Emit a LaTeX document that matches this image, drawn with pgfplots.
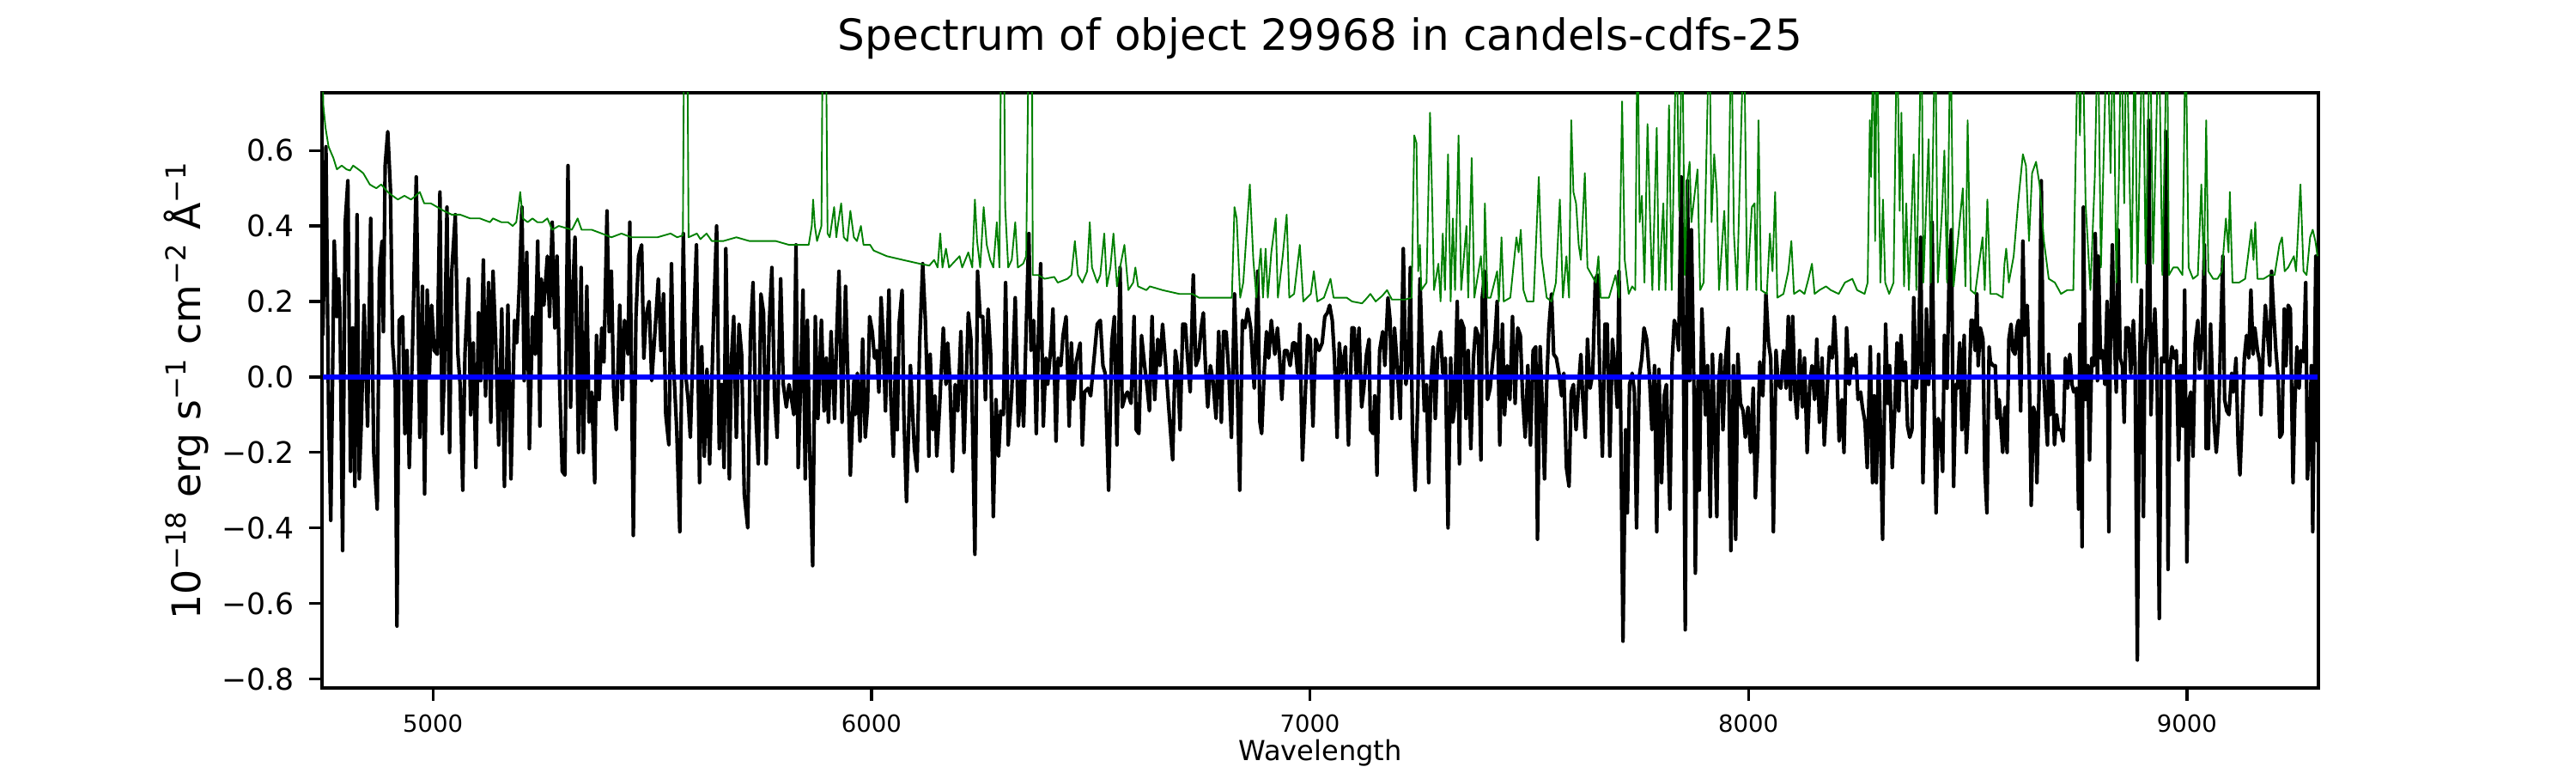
\documentclass[border=0pt]{standalone}
\usepackage{fontspec}
\setmainfont{DejaVu Sans}
\usepackage{pgfplots}
\pgfplotsset{compat=1.18}
\definecolor{mplgreen}{RGB}{0,128,0}
\definecolor{mplblue}{RGB}{0,0,255}
\begin{document}
\begin{tikzpicture}
\begin{axis}[
  at={(0,0)}, anchor=south west,
  scale only axis, width=558pt, height=166.32pt,
  xmin=4747, xmax=9300, ymin=-0.824, ymax=0.753,
  axis line style={line width=0.8pt},
  tick align=outside, tick pos=left,
  major tick length=3.5pt,
  every tick/.style={black, line width=0.8pt},
  xtick={5000,6000,7000,8000,9000},
  xticklabels={5000,6000,7000,8000,9000},
  ytick={-0.8,-0.6,-0.4,-0.2,0,0.2,0.4,0.6},
  yticklabels={−0.8,−0.6,−0.4,−0.2,0.0,0.2,0.4,0.6},
  xticklabel style={font=\fontsize{6.6}{7}\selectfont, inner sep=0pt, anchor=north, yshift=-3.7pt},
  yticklabel style={font=\fontsize{8.3}{9}\selectfont, inner sep=0pt, anchor=east, xshift=-4.1pt},
  title={Spectrum of object 29968 in candels-cdfs-25},
  title style={font=\fontsize{12}{14}\selectfont, at={(axis description cs:0.5,1)}, anchor=base, yshift=5.8pt, inner sep=0pt},
  xlabel={Wavelength},
  xlabel style={font=\fontsize{7.7}{9}\selectfont, at={(axis description cs:0.5,0)}, anchor=base, yshift=-20.2pt, inner sep=0pt},
  ylabel={10\textsuperscript{−18} erg s\textsuperscript{−1} cm\textsuperscript{−2} Å\textsuperscript{−1}},
  ylabel style={font=\fontsize{11}{13}\selectfont, at={([xshift=-34pt]axis description cs:0,0.5)}, anchor=base, inner sep=0pt},
  clip=true,
]
% black: flux
\addplot[black, line width=1.0pt, line join=round] coordinates {
(4749,0.11) (4756,0.61) (4762,-0.09) (4767,-0.38) (4775,0.36) (4781,0.16) (4785,0.26) (4788,0.17) (4794,-0.46) (4800,0.41)
(4806,0.52) (4812,-0.25) (4817,0.13) (4822,-0.29) (4827,0.43) (4832,-0.27) (4837,-0.11) (4843,0.19) (4851,-0.13) (4858,0.42)
(4865,-0.20) (4873,-0.35) (4878,0.28) (4884,0.36) (4887,0.12) (4891,0.56) (4897,0.65) (4903,0.50) (4908,0.09) (4914,-0.01)
(4918,-0.66) (4923,0.15) (4931,0.16) (4936,-0.15) (4941,0.07) (4946,-0.24) (4953,0.06) (4962,0.53) (4970,-0.16) (4976,0.24)
(4981,-0.31) (4987,0.23) (4992,0.01) (4997,0.19) (5003,0.07) (5010,0.06) (5016,0.49) (5021,-0.15) (5026,0.01) (5032,0.45)
(5038,-0.20) (5043,0.28) (5051,0.43) (5057,0.06) (5062,-0.02) (5068,-0.30) (5073,0.06) (5081,0.26) (5086,-0.10) (5092,0.09)
(5098,-0.24) (5104,0.17) (5109,-0.01) (5115,0.31) (5120,-0.05) (5127,0.25) (5132,-0.12) (5137,0.28) (5143,0.10) (5150,-0.18)
(5157,0.18) (5163,-0.29) (5171,0.19) (5178,-0.27) (5186,0.15) (5191,0.09) (5197,0.24) (5203,0.45) (5208,-0.01) (5214,0.33)
(5220,-0.19) (5227,0.16) (5233,0.06) (5239,0.36) (5244,-0.13) (5247,0.26) (5253,0.19) (5261,0.32) (5266,0.16) (5272,0.41)
(5278,0.13) (5283,0.32) (5289,-0.02) (5295,-0.25) (5301,-0.26) (5308,0.56) (5314,-0.08) (5319,0.23) (5324,0.37) (5332,-0.20)
(5338,0.29) (5343,-0.20) (5351,0.24) (5356,-0.12) (5362,-0.04) (5369,-0.28) (5373,0.11) (5379,-0.06) (5385,0.13) (5390,0.04)
(5397,0.44) (5402,0.12) (5407,0.28) (5412,-0.03) (5418,-0.14) (5426,0.19) (5432,-0.06) (5437,0.15) (5445,0.06) (5449,0.41)
(5457,-0.42) (5463,0.16) (5469,0.32) (5476,0.35) (5481,0.05) (5486,0.16) (5493,0.20) (5499,-0.01) (5507,0.13) (5514,0.26)
(5520,0.07) (5526,0.22) (5531,-0.10) (5538,-0.18) (5544,0.30) (5548,0.05) (5556,-0.14) (5563,-0.41) (5571,0.38) (5576,0.01)
(5582,-0.06) (5587,-0.16) (5595,0.15) (5601,0.35) (5608,-0.28) (5613,0.08) (5619,-0.21) (5625,0.02) (5631,-0.23) (5640,0.15)
(5647,0.40) (5653,-0.19) (5658,-0.02) (5664,-0.24) (5668,0.34) (5676,-0.27) (5681,0.05) (5686,0.16) (5692,-0.16) (5698,0.14)
(5704,0.06) (5710,-0.31) (5718,-0.40) (5724,0.11) (5730,0.25) (5736,-0.09) (5742,-0.23) (5748,0.22) (5754,0.17) (5760,-0.23)
(5767,0.14) (5773,0.29) (5779,-0.05) (5785,-0.16) (5793,0.26) (5799,-0.02) (5806,-0.08) (5812,-0.02) (5818,-0.06) (5823,-0.10)
(5828,0.35) (5833,-0.24) (5838,-0.04) (5844,0.23) (5849,-0.27) (5854,0.15) (5859,-0.18) (5866,-0.50) (5872,0.16) (5878,-0.11)
(5886,0.15) (5892,-0.09) (5897,0.05) (5902,-0.12) (5908,0.12) (5916,-0.11) (5921,0.12)
(5926,0.28) (5933,-0.12) (5941,0.24) (5952,-0.26) (5960,-0.01) (5963,-0.10) (5968,0.01) (5974,-0.17) (5980,0.10) (5986,-0.16)
(5991,-0.08) (5996,0.16) (6002,0.12) (6007,0.05) (6012,0.07) (6017,-0.04) (6022,0.21) (6027,0.10) (6032,-0.09) (6040,0.23)
(6044,-0.05) (6050,-0.21) (6055,0.05) (6059,-0.14) (6063,0.14) (6070,0.23) (6074,-0.10) (6080,-0.33) (6089,0.03) (6095,-0.12)
(6098,-0.19) (6104,-0.25) (6110,0.09) (6117,0.30) (6123,0.15) (6127,-0.01) (6131,-0.21) (6134,0.06) (6140,-0.14) (6145,-0.05)
(6149,-0.21) (6155,-0.09) (6164,0.13) (6170,-0.02) (6174,0.09) (6179,-0.01) (6185,-0.25) (6191,-0.02) (6197,-0.09) (6204,0.12)
(6211,-0.20) (6221,0.17) (6227,0.10) (6236,-0.47) (6242,0.28) (6248,0.16) (6254,0.16) (6260,-0.06) (6266,0.18) (6272,0.06)
(6278,-0.37) (6284,-0.06) (6290,-0.21) (6295,-0.09) (6301,-0.10) (6306,0.25) (6312,-0.18) (6320,-0.04) (6328,0.21) (6335,-0.13)
(6342,0.00) (6347,-0.13) (6353,0.13) (6359,0.38) (6364,0.07) (6370,0.15) (6376,-0.15) (6381,0.12) (6386,0.30) (6392,-0.13)
(6398,0.05) (6402,-0.02) (6410,0.09) (6414,0.18) (6421,-0.17) (6426,0.05) (6432,0.03) (6437,0.11) (6444,0.16) (6451,-0.13)
(6456,0.09) (6461,-0.06) (6467,0.04) (6476,0.09) (6481,-0.18) (6486,-0.04) (6494,-0.03) (6500,-0.05) (6507,0.04) (6515,0.14)
(6522,0.15) (6528,0.03) (6533,0.01) (6541,-0.30) (6548,0.09) (6554,0.16) (6560,-0.18) (6567,0.29) (6572,-0.08) (6579,-0.05)
(6584,-0.04) (6592,-0.07) (6599,0.16) (6604,-0.14) (6610,-0.15) (6616,0.11) (6623,0.03) (6629,-0.03) (6634,-0.09) (6640,0.16)
(6646,-0.06) (6653,0.10) (6658,0.03) (6664,0.14) (6670,0.05) (6678,-0.08) (6687,-0.22) (6693,0.07) (6698,0.03) (6704,-0.14)
(6710,0.14) (6716,0.14) (6721,0.05) (6727,-0.04) (6734,0.27) (6740,0.03) (6746,0.05) (6752,0.13) (6757,0.17) (6761,0.05)
(6767,-0.08) (6773,0.03) (6779,-0.01) (6786,-0.11) (6792,0.12) (6798,-0.12) (6803,0.12) (6809,0.12) (6815,0.01) (6821,-0.16)
(6828,0.22) (6835,-0.05) (6840,-0.30) (6846,0.15) (6852,0.13) (6858,0.18) (6865,0.13) (6873,-0.03) (6881,0.28) (6886,-0.12)
(6890,-0.15) (6896,0.02) (6901,0.12) (6906,0.05) (6912,0.15) (6920,0.06) (6926,0.13) (6931,0.05) (6936,-0.06) (6942,0.07)
(6948,0.07) (6955,0.03) (6961,0.09) (6966,0.09) (6972,0.01) (6977,0.14) (6983,-0.22) (6989,-0.06) (6995,0.11) (7001,0.10)
(7007,-0.13) (7013,0.10) (7021,0.07) (7028,0.09) (7034,0.16) (7040,0.17) (7045,0.19) (7051,0.15) (7056,0.05) (7062,-0.16)
(7067,0.09) (7073,0.01) (7081,0.08) (7088,-0.18) (7096,0.13)
(7101,0.13) (7106,0.00) (7112,0.13) (7118,-0.08) (7123,-0.03) (7129,0.06) (7135,0.10) (7138,-0.14) (7144,-0.15) (7148,-0.05)
(7153,-0.26) (7159,0.07) (7166,0.12) (7171,0.03) (7178,0.21) (7183,0.15) (7187,-0.11) (7193,0.13) (7198,0.05) (7206,-0.11)
(7213,0.34) (7219,-0.02) (7225,0.05) (7229,0.29) (7234,-0.16) (7240,-0.30) (7246,-0.06) (7251,0.26) (7257,0.04) (7261,-0.09)
(7266,-0.02) (7271,-0.28) (7276,-0.01) (7281,0.08) (7286,-0.11) (7292,0.08) (7298,0.12) (7303,0.01) (7309,0.05) (7315,-0.40)
(7321,0.05) (7326,-0.12) (7330,-0.08) (7336,0.20) (7341,-0.23) (7345,0.15) (7351,0.13) (7356,-0.11) (7361,0.07) (7367,-0.19)
(7373,0.05) (7378,0.13) (7384,0.11) (7390,-0.22) (7393,0.21) (7399,0.28) (7405,-0.06) (7411,-0.03) (7416,0.03) (7422,0.10)
(7427,0.20) (7433,-0.18) (7439,0.14) (7444,-0.10) (7450,0.03) (7456,-0.06) (7462,0.16) (7468,-0.07) (7474,0.13) (7480,0.11)
(7485,-0.05) (7491,-0.16) (7497,0.03) (7503,-0.18) (7509,0.07) (7515,0.08) (7519,-0.43) (7525,0.08) (7530,-0.07) (7535,-0.27)
(7540,-0.02) (7545,0.13) (7551,0.22) (7556,0.06) (7562,0.05) (7568,0.01) (7574,-0.05) (7579,0.01) (7585,-0.24) (7591,-0.29)
(7596,-0.04) (7601,-0.02) (7607,-0.14) (7613,-0.02) (7618,0.06) (7622,-0.05) (7628,-0.16) (7633,0.10) (7639,-0.03) (7645,0.01)
(7651,0.26) (7656,0.27) (7661,0.01) (7667,-0.21) (7673,0.14) (7678,0.14) (7684,-0.21) (7690,0.10) (7695,0.03) (7701,-0.08)
(7705,0.28) (7708,-0.01) (7714,-0.70) (7720,-0.14) (7724,-0.36) (7729,-0.02) (7735,0.01) (7740,-0.04) (7745,-0.40) (7751,0.00)
(7757,0.05) (7762,0.13) (7768,0.10) (7774,0.01) (7780,-0.14) (7786,0.03) (7791,-0.41) (7796,0.02) (7802,-0.28) (7808,-0.05)
(7813,-0.02) (7821,-0.35) (7826,0.04) (7831,0.15) (7836,0.13) (7841,0.07) (7847,0.53) (7852,0.03) (7856,-0.67) (7861,0.52)
(7866,-0.01) (7870,0.39) (7876,-0.05) (7879,-0.52) (7885,-0.01) (7888,-0.30) (7894,0.18) (7898,0.05) (7902,-0.10) (7907,0.03)
(7913,-0.37) (7918,0.06) (7922,-0.09) (7928,-0.37) (7932,-0.02) (7937,0.06) (7942,-0.14) (7948,0.05) (7954,0.13) (7960,-0.46)
(7966,0.03) (7971,-0.43) (7976,0.06) (7982,-0.07) (7988,-0.09) (7993,-0.16) (7999,-0.08) (8005,-0.20) (8011,-0.03) (8016,-0.32)
(8021,-0.19) (8026,0.04) (8033,-0.05) (8040,0.22) (8046,0.09) (8051,0.05) (8057,-0.41) (8063,0.07) (8068,-0.02) (8074,-0.03)
(8080,0.07) (8086,-0.03) (8091,0.16) (8096,-0.06) (8101,0.16) (8106,-0.04) (8111,-0.11) (8117,0.07) (8123,-0.08) (8128,0.05)
(8134,-0.20) (8140,-0.02) (8145,0.03) (8151,-0.06) (8156,0.10) (8162,-0.12) (8168,0.05) (8173,-0.18) (8179,-0.05) (8185,0.08)
(8191,0.05) (8196,0.16) (8201,0.05) (8207,-0.17) (8213,-0.06) (8218,-0.20) (8224,0.13) (8230,-0.02) (8236,0.05) (8241,0.03)
(8245,0.06) (8250,-0.06) (8256,-0.04) (8260,-0.08) (8266,-0.12) (8271,-0.24)
(8278,0.08) (8283,-0.28) (8287,-0.05) (8292,-0.28) (8297,0.06) (8301,-0.13) (8306,-0.43) (8313,0.14) (8318,-0.07) (8322,0.03)
(8328,-0.24) (8334,-0.08) (8339,0.09) (8343,-0.09) (8348,0.11) (8353,-0.01) (8358,0.04) (8363,-0.13) (8368,-0.16) (8373,-0.14)
(8377,0.21) (8383,-0.03) (8388,0.05) (8393,0.37) (8398,-0.28) (8404,0.01) (8406,0.18) (8411,-0.02) (8416,0.09) (8419,0.41)
(8424,-0.11) (8428,-0.36) (8433,-0.11) (8438,-0.13) (8443,-0.25) (8447,0.11) (8453,-0.03) (8458,0.29) (8463,0.39) (8468,-0.29)
(8473,-0.02) (8477,-0.03) (8482,0.09) (8487,-0.14) (8492,0.11) (8497,-0.20) (8503,-0.05) (8508,0.15) (8512,0.15) (8517,0.07)
(8521,0.22) (8524,0.03) (8529,0.13) (8535,0.10) (8539,-0.24) (8544,-0.36) (8549,0.08) (8552,0.04) (8558,0.03) (8563,0.03)
(8567,-0.11) (8572,-0.06) (8575,-0.11) (8580,-0.20) (8585,-0.08) (8590,-0.20) (8594,0.10) (8599,0.14) (8603,0.07) (8608,0.06)
(8612,0.13) (8616,0.15) (8621,-0.09) (8626,0.36) (8630,0.11) (8636,0.19) (8641,-0.02) (8645,-0.34) (8650,-0.08) (8655,-0.10)
(8658,-0.28) (8663,-0.03) (8668,0.52) (8672,0.04) (8677,-0.08) (8682,-0.18) (8685,0.06) (8689,-0.10) (8694,-0.01) (8698,-0.18)
(8703,-0.10) (8707,-0.14) (8713,-0.14) (8718,-0.17) (8723,0.05) (8728,-0.03) (8733,0.06) (8738,-0.02) (8742,-0.04) (8748,-0.03)
(8753,-0.35) (8756,0.14) (8761,-0.45) (8764,0.45) (8769,-0.06) (8774,0.03) (8778,-0.22) (8783,0.05) (8788,0.03) (8791,0.38)
(8796,-0.01) (8798,0.32) (8803,0.05) (8808,0.07) (8813,-0.02) (8818,0.20) (8822,-0.41) (8825,0.05) (8830,0.35) (8834,0.13)
(8839,-0.04) (8843,0.39) (8848,0.05) (8853,0.03) (8857,-0.12) (8861,0.13) (8867,0.13) (8872,0.01) (8878,0.15) (8882,0.03)
(8887,-0.75) (8892,0.03) (8896,0.23) (8901,-0.37) (8904,0.05) (8909,0.13) (8913,0.68) (8918,-0.10) (8922,0.06) (8927,0.18)
(8932,0.02) (8937,-0.64) (8942,0.05) (8948,0.04) (8952,0.65) (8957,-0.51) (8962,0.03) (8966,0.08) (8971,0.05) (8976,0.07)
(8981,-0.22) (8986,0.03) (8991,-0.13) (8995,0.23) (9000,-0.49) (9005,-0.06) (9009,-0.04) (9014,-0.21) (9019,0.09) (9025,0.15)
(9029,0.02) (9035,0.10) (9040,0.35) (9044,-0.19) (9049,-0.19) (9054,0.14) (9057,0.03) (9062,-0.12) (9067,-0.20) (9072,-0.12)
(9077,0.11) (9082,0.32) (9086,-0.06) (9091,-0.09) (9096,-0.10) (9102,0.01) (9106,-0.04) (9112,0.05) (9117,-0.18) (9121,-0.26)
(9126,-0.11) (9131,0.05) (9136,0.11) (9141,0.05) (9146,0.23) (9151,0.06) (9155,0.13) (9161,0.07) (9166,0.04) (9169,-0.10)
(9174,0.07) (9179,0.19) (9183,0.13) (9189,0.03) (9193,0.28) (9197,0.19) (9203,0.07) (9208,0.00) (9212,-0.16) (9217,-0.15)
(9222,0.18) (9226,0.03) (9231,0.19) (9236,0.18) (9242,-0.28) (9246,-0.08) (9251,0.08) (9256,-0.03) (9260,0.07) (9266,0.04)
(9271,0.25) (9275,-0.27) (9280,-0.14) (9284,0.03) (9287,-0.41) (9291,0.00) (9294,0.32) (9298,-0.17) (9300,0.34)
};
% green: noise
\addplot[mplgreen, line width=0.45pt, line join=round] coordinates {
(4747,0.90) (4750,0.72) (4755,0.66) (4762,0.61) (4773,0.58) (4781,0.55) (4792,0.56) (4803,0.55) (4811,0.547) (4818,0.56)
(4830,0.55) (4841,0.54) (4856,0.51) (4863,0.505) (4871,0.50) (4882,0.51) (4897,0.49) (4908,0.48) (4920,0.47) (4935,0.48)
(4950,0.47) (4961,0.48) (4970,0.49) (4980,0.46) (4995,0.46) (5010,0.45) (5025,0.44) (5043,0.43) (5062,0.43) (5085,0.42)
(5107,0.42) (5130,0.41) (5137,0.42) (5156,0.41) (5171,0.41) (5182,0.40) (5190,0.41) (5196,0.46) (5199,0.49) (5205,0.42)
(5216,0.41) (5227,0.42) (5238,0.41) (5250,0.41) (5261,0.42) (5272,0.39) (5287,0.40) (5317,0.39) (5330,0.42) (5339,0.39)
(5362,0.39) (5385,0.38) (5407,0.37) (5430,0.38) (5452,0.37) (5482,0.37) (5512,0.37) (5542,0.38) (5557,0.37) (5570,0.375)
(5573,0.95) (5580,0.95) (5583,0.37) (5602,0.38) (5610,0.365) (5624,0.38) (5636,0.36) (5662,0.36) (5692,0.37) (5722,0.36)
(5752,0.36) (5782,0.36) (5812,0.35) (5842,0.35) (5857,0.35) (5864,0.40) (5867,0.47) (5871,0.40) (5876,0.36) (5886,0.40)
(5889,0.95) (5896,0.95) (5900,0.38) (5905,0.37) (5915,0.45) (5920,0.37)
(5922,0.39) (5931,0.46) (5937,0.37) (5945,0.36) (5952,0.44) (5960,0.37) (5967,0.36) (5976,0.40) (5982,0.35) (5997,0.35)
(6005,0.335) (6035,0.32) (6072,0.31) (6110,0.30) (6132,0.295) (6143,0.31) (6151,0.29) (6157,0.38) (6162,0.29) (6170,0.34)
(6177,0.29) (6201,0.32) (6207,0.29) (6221,0.33) (6230,0.29) (6236,0.47) (6241,0.36) (6248,0.29) (6256,0.45) (6263,0.35)
(6271,0.31) (6278,0.29) (6286,0.41) (6292,0.29) (6296,0.95) (6302,0.95) (6305,0.45) (6312,0.29) (6320,0.31) (6328,0.41)
(6334,0.29) (6346,0.30) (6353,0.32) (6359,0.95) (6366,0.95) (6368,0.27) (6380,0.27) (6395,0.26) (6417,0.265) (6425,0.25)
(6447,0.26) (6456,0.27) (6464,0.36) (6471,0.27) (6481,0.25) (6492,0.28) (6498,0.41) (6503,0.29) (6515,0.25) (6522,0.27)
(6531,0.38) (6537,0.24) (6545,0.29) (6552,0.38) (6560,0.24) (6567,0.29) (6577,0.35) (6586,0.23) (6597,0.25) (6602,0.29)
(6608,0.24) (6627,0.23) (6635,0.24) (6664,0.23) (6702,0.22) (6732,0.22) (6747,0.21) (6785,0.21) (6822,0.21) (6828,0.45)
(6833,0.42) (6841,0.21) (6848,0.25) (6863,0.51) (6871,0.31) (6878,0.21) (6888,0.34) (6893,0.21) (6899,0.34) (6904,0.21)
(6912,0.33) (6922,0.42) (6927,0.21) (6938,0.32) (6947,0.43) (6953,0.21) (6964,0.22) (6977,0.35) (6985,0.20) (7002,0.22)
(7009,0.28) (7017,0.20) (7032,0.21) (7047,0.26) (7054,0.21) (7069,0.21) (7084,0.21) (7096,0.20)
(7119,0.195) (7127,0.205) (7138,0.22) (7150,0.20) (7165,0.215) (7176,0.23) (7187,0.205) (7202,0.205) (7217,0.205) (7232,0.21)
(7238,0.64) (7243,0.62) (7247,0.28) (7251,0.35) (7254,0.23) (7266,0.25) (7274,0.70) (7279,0.46) (7283,0.23) (7293,0.30)
(7298,0.20) (7303,0.38) (7308,0.23) (7315,0.59) (7321,0.20) (7326,0.42) (7331,0.23) (7339,0.64) (7345,0.23) (7357,0.40)
(7361,0.21) (7369,0.58) (7375,0.21) (7390,0.32) (7396,0.21) (7399,0.46) (7405,0.21) (7412,0.21) (7427,0.28) (7431,0.20)
(7437,0.37) (7442,0.20) (7457,0.21) (7471,0.37) (7476,0.33) (7481,0.39) (7487,0.23) (7495,0.20) (7510,0.20) (7522,0.53)
(7528,0.32) (7540,0.21) (7551,0.20) (7561,0.25) (7570,0.47) (7577,0.21) (7585,0.32) (7591,0.21) (7596,0.68) (7601,0.49)
(7607,0.46) (7613,0.35) (7618,0.31) (7627,0.54) (7633,0.29) (7652,0.25) (7658,0.32) (7663,0.21) (7682,0.21) (7697,0.27)
(7705,0.21) (7712,0.73) (7718,0.31) (7727,0.22) (7735,0.24) (7742,0.23) (7747,0.95) (7752,0.41) (7757,0.48) (7763,0.25)
(7770,0.67) (7776,0.41) (7781,0.23) (7791,0.66) (7796,0.23) (7806,0.46) (7811,0.23) (7819,0.72) (7825,0.23) (7836,0.95)
(7842,0.44) (7849,0.95) (7855,0.27) (7861,0.52) (7866,0.57) (7870,0.41) (7877,0.48) (7884,0.55) (7890,0.23) (7898,0.25)
(7911,0.95) (7916,0.41) (7922,0.59) (7928,0.49) (7933,0.23) (7945,0.44) (7952,0.23) (7961,0.95) (7967,0.38) (7974,0.23)
(7990,0.95) (7997,0.23) (8008,0.45) (8014,0.46) (8018,0.23) (8023,0.68) (8029,0.23) (8042,0.22) (8049,0.38) (8055,0.28)
(8061,0.49) (8066,0.21) (8080,0.22) (8091,0.28) (8098,0.36) (8104,0.22) (8117,0.23) (8128,0.22) (8137,0.26) (8145,0.30)
(8151,0.22) (8162,0.23) (8177,0.24) (8188,0.23) (8206,0.22) (8220,0.25)
(8237,0.26) (8248,0.23) (8265,0.22) (8272,0.25) (8277,0.68) (8280,0.53) (8285,0.95) (8289,0.36) (8293,0.95) (8301,0.25)
(8307,0.47) (8312,0.25) (8321,0.22) (8331,0.25) (8339,0.95) (8345,0.44) (8349,0.70) (8355,0.24) (8360,0.46) (8366,0.23)
(8377,0.59) (8383,0.23) (8395,0.95) (8399,0.25) (8411,0.63) (8416,0.25) (8426,0.95) (8432,0.25) (8442,0.45) (8447,0.60)
(8453,0.25) (8461,0.95) (8468,0.24) (8489,0.50) (8495,0.24) (8500,0.68) (8507,0.23) (8517,0.22) (8534,0.37) (8539,0.23)
(8545,0.47) (8552,0.22) (8566,0.22) (8580,0.21) (8584,0.30) (8588,0.34) (8594,0.25) (8605,0.32) (8615,0.46) (8626,0.59)
(8633,0.56) (8640,0.36) (8647,0.54) (8656,0.57) (8664,0.51) (8674,0.36) (8685,0.26) (8699,0.25) (8713,0.22) (8727,0.23)
(8741,0.23) (8752,0.95) (8756,0.64) (8762,0.95) (8769,0.46) (8780,0.23) (8790,0.53) (8797,0.95) (8804,0.29) (8818,0.95)
(8826,0.54) (8832,0.95) (8839,0.25) (8845,0.53) (8850,0.95) (8857,0.46) (8862,0.95) (8874,0.25) (8881,0.95) (8887,0.25)
(8899,0.95) (8906,0.30) (8916,0.95) (8923,0.30) (8936,0.95) (8944,0.27) (8955,0.95) (8959,0.27) (8969,0.29) (8979,0.29)
(8990,0.27) (8997,0.95) (9004,0.29) (9014,0.26) (9025,0.27) (9033,0.51) (9039,0.27) (9044,0.68) (9049,0.28) (9060,0.26)
(9070,0.26) (9080,0.28) (9089,0.42) (9095,0.33) (9098,0.49) (9104,0.25) (9119,0.25) (9133,0.26) (9147,0.39) (9152,0.31)
(9156,0.41) (9161,0.26) (9175,0.26) (9189,0.27) (9200,0.27) (9211,0.35) (9217,0.37) (9223,0.28) (9231,0.29) (9244,0.32)
(9249,0.28) (9259,0.51) (9266,0.28) (9273,0.27) (9281,0.37) (9287,0.39) (9293,0.36) (9298,0.32)
};
% blue: model
\addplot[mplblue, line width=1.4pt] coordinates {
(4749,0) (5000,0) (5500,0) (6000,0) (6500,0) (7000,0) (7500,0) (8000,0) (8500,0) (9000,0) (9298,0)
};
\end{axis}
\pgfresetboundingbox
\path[use as bounding box] (-90pt,-23.76pt) rectangle (630pt,192.24pt);
\end{tikzpicture}
\end{document}
